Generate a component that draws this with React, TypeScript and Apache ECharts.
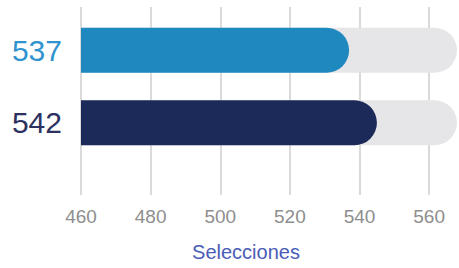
import React, { useEffect, useRef } from "react";
import * as echarts from "echarts";

const categories = ["537", "542"];
const values = [537, 545];
const trackValues = [568, 568];
const barColors = ["#1f88bf", "#1c2a5a"];
const labelColors = ["#2f93cf", "#2c3160"];
const axisMin = 460;
const axisMax = 568;
const axisInterval = 20;
const axisName = "Selecciones";

export default function App() {
  const ref = useRef<HTMLDivElement>(null);
  useEffect(() => {
    const chart = echarts.init(ref.current!, null, { renderer: "svg" });
    const font = "Liberation Sans, Arial, sans-serif";
    chart.setOption({
      animation: false,
      grid: [
        { left: 81, right: 2, top: 7, height: 188 },
        { left: 81, right: 2, top: 14, height: 145 },
      ],
      graphic: [
        {
          type: "text",
          x: 246,
          y: 252,
          style: {
            text: axisName,
            fontSize: 20,
            fill: "#4a5db6",
            fontFamily: font,
            align: "center",
            verticalAlign: "middle",
          },
        },
      ],
      xAxis: [
        {
          gridIndex: 0,
          type: "value",
          min: axisMin,
          max: axisMax,
          interval: axisInterval,
          axisLine: { show: false },
          axisTick: { show: false },
          splitLine: {
            show: true,
            showMaxLine: false,
            lineStyle: { color: "#dadada", width: 2 },
          },
          axisLabel: {
            fontSize: 19,
            color: "#8e8e8e",
            margin: 12,
            fontFamily: font,
            showMaxLabel: false,
          },
        },
        {
          gridIndex: 1,
          type: "value",
          min: axisMin,
          max: axisMax,
          show: false,
        },
      ],
      yAxis: [
        { gridIndex: 0, type: "value", show: false },
        {
          gridIndex: 1,
          type: "category",
          inverse: true,
          data: categories,
          axisLine: { show: false },
          axisTick: { show: false },
          axisLabel: {
            margin: 19,
            formatter: (v: string, i: number) => `{c${i}|${v}}`,
            rich: {
              c0: { fontSize: 30, color: labelColors[0], fontFamily: font },
              c1: { fontSize: 30, color: labelColors[1], fontFamily: font },
            },
          },
        },
      ],
      series: [
        {
          type: "bar",
          xAxisIndex: 1,
          yAxisIndex: 1,
          data: trackValues,
          barWidth: 45,
          barGap: "-100%",
          itemStyle: { color: "#e6e6e8", borderRadius: [0, 22.5, 22.5, 0] },
          z: 1,
          silent: true,
        },
        {
          type: "bar",
          xAxisIndex: 1,
          yAxisIndex: 1,
          data: values.map((v, i) => ({
            value: v,
            itemStyle: { color: barColors[i] },
          })),
          barWidth: 45,
          itemStyle: { borderRadius: [0, 22.5, 22.5, 0] },
          z: 2,
        },
      ],
    });
    return () => chart.dispose();
  }, []);
  return (
    <div
      ref={ref}
      style={{ position: "absolute", left: 0, top: 0, width: 459, height: 268 }}
    />
  );
}
